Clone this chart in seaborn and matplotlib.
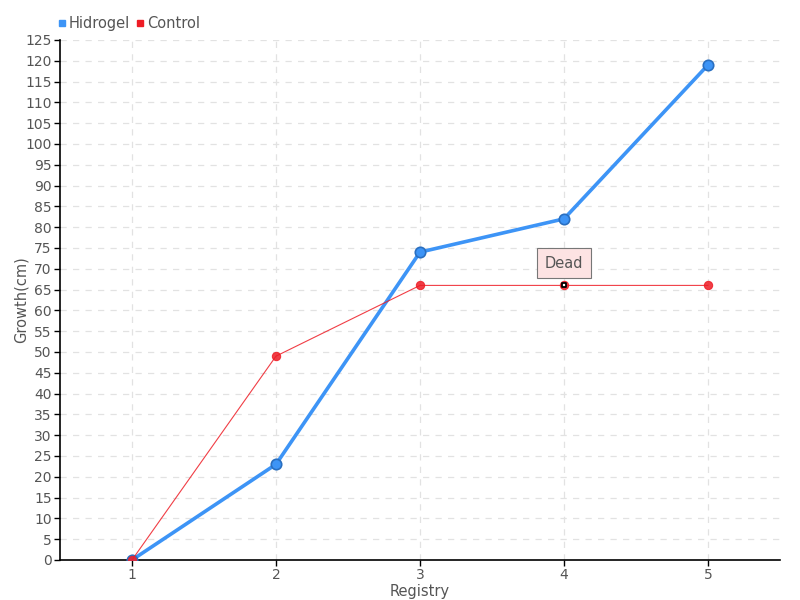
import pandas as pd
import numpy as np
import matplotlib.pyplot as plt
import seaborn as sns

sns.set_theme(style="white")
plt.rcParams['font.family'] = ['Liberation Sans Narrow', 'DejaVu Sans']

# data
registry = [1, 2, 3, 4, 5]
hidrogel = [0, 23, 74, 82, 119]
control = [0, 49, 66, 66, 66]

df = pd.DataFrame({'Registry': registry * 2,
                   'Growth': hidrogel + control,
                   'Serie': ['Hidrogel'] * 5 + ['Control'] * 5})

blue = '#3d94f6'
red = '#ee1c25'
txt = '#555555'

fig = plt.figure(figsize=(8, 6), dpi=100)
ax = fig.add_axes([0.075, 0.0667, 0.9, 0.8667])

sns.lineplot(data=df[df.Serie == 'Hidrogel'], x='Registry', y='Growth', ax=ax,
             color=blue, linewidth=2.6, marker='o', markersize=7.5,
             markeredgecolor='#2a6fc0', markeredgewidth=1.2, zorder=3)
sns.lineplot(data=df[df.Serie == 'Control'], x='Registry', y='Growth', ax=ax,
             color=red, linewidth=0.8, alpha=0.85, marker='o', markersize=6,
             markeredgecolor=red, zorder=4)

# selected point on Control at registry 4
ax.scatter([registry[3]], [control[3]], marker='s', s=12, facecolor='white',
           edgecolor='black', linewidth=1.3, zorder=6)
ax.annotate('Dead', xy=(registry[3], control[3]), xytext=(0, 16),
            textcoords='offset points', ha='center', va='center',
            fontsize=10.5, color=txt,
            bbox=dict(boxstyle='square,pad=0.5', fc='#fde3e3', ec='#777777', lw=0.8),
            zorder=7)

ax.set_xlim(0.5, 5.5)
ax.set_ylim(0, 125)
ax.set_xticks(registry)
ax.set_yticks(np.arange(0, 126, 5))
ax.tick_params(axis='both', labelsize=10, labelcolor=txt, color='black',
               length=4, width=1, pad=2, direction='out', bottom=True, left=True)
ax.grid(True, linestyle=(0, (5, 5)), color='#e2e2e2', linewidth=0.9)
for s in ['top', 'right']:
    ax.spines[s].set_visible(False)
for s in ['left', 'bottom']:
    ax.spines[s].set_color('black')
    ax.spines[s].set_linewidth(1.2)

ax.set_xlabel('Registry', fontsize=10.5, color=txt)
ax.set_ylabel('Growth(cm)', fontsize=10.5, color=txt)
ax.xaxis.set_label_coords(0.5, -0.047)
ax.yaxis.set_label_coords(-0.044, 0.5)

# legend with small squares
handles = [plt.Line2D([], [], marker='s', linestyle='', color=blue, markersize=5),
           plt.Line2D([], [], marker='s', linestyle='', color=red, markersize=5)]
fig.legend(handles, ['Hidrogel', 'Control'], loc='upper left',
           bbox_to_anchor=(0.055, 0.995), ncol=2, frameon=False,
           handlelength=0.6, handletextpad=0.2, columnspacing=0.4,
           fontsize=10.5, labelcolor=txt)

fig.savefig('out.png', dpi=100)
